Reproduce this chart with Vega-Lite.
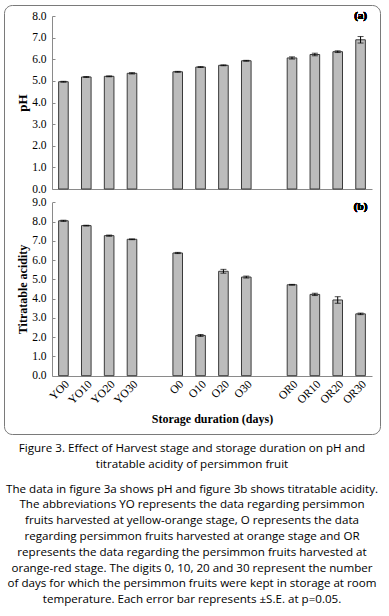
{
  "$schema": "https://vega.github.io/schema/vega-lite/v6.json",
  "padding": {"left": 4, "top": 5, "right": 4, "bottom": 4},
  "background": "white",
  "config": {
    "view": {"stroke": null},
    "font": "Liberation Serif",
    "axis": {
      "labelFont": "Liberation Serif",
      "labelFontSize": 11.5,
      "labelColor": "#000000",
      "titleFont": "Liberation Serif",
      "titleFontSize": 12,
      "titleFontWeight": "bold",
      "titleColor": "#000000",
      "domainColor": "#8a8a8a",
      "tickColor": "#8a8a8a",
      "grid": false
    }
  },
  "datasets": {
    "ph": [
      {"sample": "YO0", "value": 4.96, "se": 0.02},
      {"sample": "YO10", "value": 5.18, "se": 0.02},
      {"sample": "YO20", "value": 5.21, "se": 0.02},
      {"sample": "YO30", "value": 5.35, "se": 0.03},
      {"sample": "O0", "value": 5.42, "se": 0.02},
      {"sample": "O10", "value": 5.64, "se": 0.02},
      {"sample": "O20", "value": 5.72, "se": 0.02},
      {"sample": "O30", "value": 5.93, "se": 0.02},
      {"sample": "OR0", "value": 6.06, "se": 0.05},
      {"sample": "OR10", "value": 6.22, "se": 0.06},
      {"sample": "OR20", "value": 6.35, "se": 0.04},
      {"sample": "OR30", "value": 6.9, "se": 0.15}
    ],
    "ta": [
      {"sample": "YO0", "value": 8.04, "se": 0.03},
      {"sample": "YO10", "value": 7.79, "se": 0.02},
      {"sample": "YO20", "value": 7.27, "se": 0.03},
      {"sample": "YO30", "value": 7.08, "se": 0.02},
      {"sample": "O0", "value": 6.37, "se": 0.03},
      {"sample": "O10", "value": 2.09, "se": 0.05},
      {"sample": "O20", "value": 5.42, "se": 0.1},
      {"sample": "O30", "value": 5.12, "se": 0.05},
      {"sample": "OR0", "value": 4.72, "se": 0.02},
      {"sample": "OR10", "value": 4.22, "se": 0.06},
      {"sample": "OR20", "value": 3.93, "se": 0.17},
      {"sample": "OR30", "value": 3.21, "se": 0.04}
    ]
  },
  "title": {
    "text": ["Figure 3. Effect of Harvest stage and storage duration on pH and", "titratable acidity of persimmon fruit"],
    "subtitle": [
      "The data in figure 3a shows pH and figure 3b shows titratable acidity.",
      "The abbreviations YO represents the data regarding persimmon",
      "fruits harvested at yellow-orange stage, O represents the data",
      "regarding persimmon fruits harvested at orange stage and OR",
      "represents the data regarding the persimmon fruits harvested at",
      "orange-red stage. The digits 0, 10, 20 and 30 represent the number",
      "of days for which the persimmon fruits were kept in storage at room",
      "temperature. Each error bar represents ±S.E. at p=0.05."
    ],
    "orient": "bottom",
    "anchor": "middle",
    "font": "Open Sans",
    "fontSize": 11.6,
    "fontWeight": "normal",
    "lineHeight": 16,
    "color": "#000000",
    "subtitleFont": "Open Sans",
    "subtitleFontSize": 11.6,
    "subtitleLineHeight": 15.8,
    "subtitleColor": "#000000",
    "subtitlePadding": 13,
    "offset": 9
  },
  "width": 376,
  "height": 429,
  "view": {"stroke": "#7a7a7a", "strokeWidth": 1, "cornerRadius": 8},
  "layer": [
    {
      "data": {"name": "ph"},
      "layer": [
        {
          "mark": {"type": "bar", "fill": "#bcbcbc", "stroke": "#3a3a3a", "strokeWidth": 1},
          "encoding": {
            "x": {
              "field": "sample", "type": "nominal", "sort": null,
              "scale": {"domain": ["YO0", "YO10", "YO20", "YO30", " ", "O0", "O10", "O20", "O30", "  ", "OR0", "OR10", "OR20", "OR30"], "range": [48, 368], "paddingInner": 0.58, "paddingOuter": 0.29},
              "axis": {"orient": "bottom", "labels": false, "ticks": false, "title": null, "offset": -245}
            },
            "y": {
              "field": "value", "type": "quantitative", "title": "pH",
              "scale": {"domain": [0, 8], "range": [184, 11], "nice": false},
              "axis": {"orient": "left", "offset": -48, "values": [0, 1, 2, 3, 4, 5, 6, 7, 8], "format": ".1f", "tickSize": -3, "labelPadding": 9, "titlePadding": 2, "titleFontSize": 13}
            }
          }
        },
        {
          "mark": {"type": "errorbar", "ticks": {"size": 6}, "color": "#000000", "thickness": 1},
          "encoding": {
            "x": {"field": "sample", "type": "nominal", "sort": null},
            "y": {"field": "value", "type": "quantitative", "title": "pH"},
            "yError": {"field": "se"}
          }
        },
        {
          "mark": {"type": "text", "text": "(a)", "font": "Liberation Serif", "fontWeight": "bold", "fontSize": 11, "baseline": "middle", "color": "#000000"},
          "encoding": {
            "x": {"datum": "OR30"},
            "y": {"datum": 8}
          }
        }
      ]
    },
    {
      "data": {"name": "ta"},
      "layer": [
        {
          "mark": {"type": "bar", "fill": "#bcbcbc", "stroke": "#3a3a3a", "strokeWidth": 1},
          "encoding": {
            "x": {
              "field": "sample", "type": "nominal", "sort": null,
              "scale": {"domain": ["YO0", "YO10", "YO20", "YO30", " ", "O0", "O10", "O20", "O30", "  ", "OR0", "OR10", "OR20", "OR30"], "range": [48, 368], "paddingInner": 0.58, "paddingOuter": 0.29},
              "axis": {"orient": "bottom", "ticks": false, "labelAngle": -45, "offset": -58, "title": "Storage duration (days)", "titlePadding": 7, "labelPadding": 2}
            },
            "y": {
              "field": "value", "type": "quantitative", "title": "Titratable acidity",
              "scale": {"domain": [0, 9], "range": [370.7, 197.3], "nice": false},
              "axis": {"orient": "left", "offset": -48, "values": [0, 1, 2, 3, 4, 5, 6, 7, 8, 9], "format": ".1f", "tickSize": -3, "labelPadding": 9, "titlePadding": 2}
            }
          }
        },
        {
          "mark": {"type": "errorbar", "ticks": {"size": 6}, "color": "#000000", "thickness": 1},
          "encoding": {
            "x": {"field": "sample", "type": "nominal", "sort": null},
            "y": {"field": "value", "type": "quantitative", "title": "Titratable acidity"},
            "yError": {"field": "se"}
          }
        },
        {
          "mark": {"type": "text", "text": "(b)", "font": "Liberation Serif", "fontWeight": "bold", "fontSize": 11, "baseline": "middle", "color": "#000000"},
          "encoding": {
            "x": {"datum": "OR30"},
            "y": {"datum": 8.75}
          }
        }
      ]
    }
  ],
  "resolve": {"scale": {"y": "independent"}, "axis": {"x": "independent", "y": "independent"}}
}
